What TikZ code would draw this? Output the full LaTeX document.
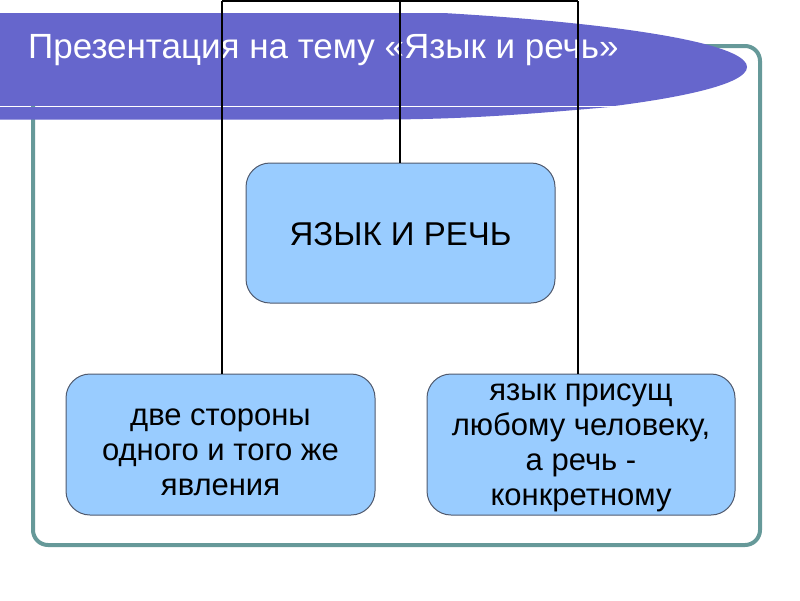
\documentclass[tikz,border=0pt]{standalone}
\usepackage{fontspec}
\setmainfont{Liberation Sans}
\definecolor{bannerblue}{RGB}{102,102,204}
\definecolor{framegreen}{RGB}{102,153,153}
\definecolor{boxfill}{RGB}{153,204,255}
\definecolor{boxline}{RGB}{80,90,110}
\tikzset{
  blockbox/.style={draw=boxline, line width=1pt, fill=boxfill, rounded corners=24pt, inner sep=0pt},
  blocktext/.style={align=center, inner sep=0pt, font=\fontsize{31}{35}\selectfont},
  linkline/.style={draw=black, line width=2pt},
}
\begin{document}
\begin{tikzpicture}[x=1pt,y=-1pt]
\useasboundingbox (0,0) rectangle (800,600);
% frame
\draw[framegreen, line width=4pt, rounded corners=15pt] (33,46) rectangle (760,545);
% banner
\begin{scope}
  \clip (0,13) rectangle (800,105);
  \fill[bannerblue] (150,67) ellipse [x radius=597, y radius=62];
\end{scope}
\fill[bannerblue] (0,107) -- (610,107) .. controls (540,113) and (470,119.5) .. (380,119.5) -- (0,119.5) -- cycle;
\node[anchor=base west, text=white, font=\fontsize{35}{40}\selectfont, inner sep=0pt] (title) at (28,58) {Презентация на тему «Язык и речь»};
% boxes
\node[blockbox, minimum width=309pt, minimum height=140pt] (center) at (400.5,233) {};
\node[blockbox, minimum width=309pt, minimum height=141pt] (left) at (220.5,444.5) {};
\node[blockbox, minimum width=308pt, minimum height=141pt] (right) at (581,444.5) {};
\node[blocktext, font=\fontsize{33}{38}\selectfont] (centertxt) at ([yshift=-1pt]center.center) {ЯЗЫК И РЕЧЬ};
\node[blocktext] (lefttxt) at ([yshift=-8pt]left.center) {две стороны\\одного и того же\\явления};
\node[blocktext] (righttxt) at ([yshift=-3pt]right.center) {язык присущ\\любому человеку,\\а речь -\\конкретному};
% connectors
\coordinate (tl) at (222,1);
\coordinate (tm) at (400,1);
\coordinate (tr) at (578,1);
\draw[linkline] (tl) -- (tr);
\draw[linkline] (tl) -- (tl |- left.north);
\draw[linkline] (tm) -- (tm |- center.north);
\draw[linkline] (tr) -- (tr |- right.north);
\end{tikzpicture}
\end{document}
